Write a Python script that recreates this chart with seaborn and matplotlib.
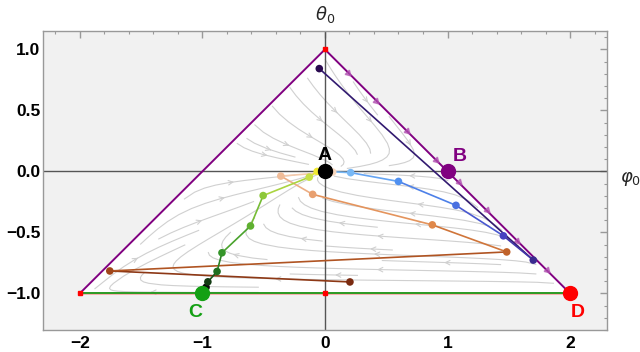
import numpy as np
import pandas as pd
import matplotlib
matplotlib.use("Agg")
import matplotlib.pyplot as plt
import matplotlib.colors as mcolors
from matplotlib.ticker import MultipleLocator
import seaborn as sns

sns.set_theme(style="white")
plt.rcParams['font.family'] = ['Liberation Sans', 'DejaVu Sans']

# triangle boundary (vertices)
tri_x = [-2, 0, 2, -2]
tri_y = [-1, 1, -1, -1]

# trajectories
green_x = [-0.97, -0.955, -0.88, -0.84, -0.607, -0.504, -0.128, -0.063]
green_y = [-0.95, -0.905, -0.82, -0.667, -0.447, -0.198, -0.047, 0.0]
green_cols = ['#0a0a0a', '#143c14', '#1f6f1f', '#35952a', '#5fb030', '#8dc83a', '#c7e048', '#f0e830']

orange_x = [0.204, -1.755, 1.483, 0.876, -0.10, -0.36, 0.063]
orange_y = [-0.906, -0.816, -0.66, -0.438, -0.188, -0.038, -0.005]
orange_cols = ['#7a2a10', '#a0461a', '#c0622a', '#e0884a', '#e8a070', '#f0bc98', '#f8d8c0']

blue_x = [-0.046, 1.70, 1.456, 1.069, 0.60, 0.21]
blue_y = [0.843, -0.727, -0.528, -0.278, -0.082, -0.01]
blue_cols = ['#2a0a50', '#3a2a90', '#4840c0', '#4a70e0', '#5090f0', '#78b8f5']

# arrow heads along the right edge
edge_arrow_x = [0.19, 0.42, 0.67, 0.91, 1.09, 1.32, 1.57, 1.81]

# fixed points
fp_names = ['A', 'B', 'C', 'D']
fp_x = [0, 1, -1, 2]
fp_y = [0, 0, -1, -1]
fp_cols = ['black', '#800080', '#14a014', '#ff0000']
fp_label_x = [0, 1.10, -1.06, 2.06]
fp_label_y = [0.13, 0.12, -1.16, -1.16]

small_red_x = [0, -2, 0]
small_red_y = [1, -1, -1]

fig = plt.figure(figsize=(6.4, 3.52), dpi=100)
ax = fig.add_axes([0.0672, 0.0625, 0.881, 0.849])
ax.set_xlim(-2.3, 2.3)
ax.set_ylim(-1.3, 1.15)
ax.set_facecolor('#f1f1f1')

# white triangle
ax.fill(tri_x, tri_y, color='white', zorder=0.5)

# background stream field
gx = np.linspace(-2.3, 2.3, 300)
gy = np.linspace(-1.3, 1.15, 200)
X, Y = np.meshgrid(gx, gy)
C = 1.1 * Y + 0.8 * Y ** 3
U = (X - C) * (X - (1 - Y)) * (X - (Y - 1)) * 0.6 + 0.5 * np.clip(Y, 0, None)
V = -0.45 * Y * (Y + 1)
outside = (Y < -1) | (X < Y - 1) | (X > 1 - Y)
U = np.ma.array(U, mask=outside)
V = np.ma.array(V, mask=outside)
ax.streamplot(X, Y, U, V, density=1.1, color='#d0d0d0', linewidth=0.8,
              arrowsize=0.8, arrowstyle='->', zorder=1)

# axes through the origin
ax.axhline(0, color='#555555', lw=1, zorder=2)
ax.axvline(0, color='#555555', lw=1, zorder=2)

# triangle edges
ax.plot([-2, 2], [-1, -1], color='#ff6060', lw=1.8, alpha=0.6, zorder=3, solid_capstyle='butt')
ax.plot([-2, 2], [-1, -1], color='#1a9a1a', lw=1.3, zorder=3.1)
ax.plot([-2, 0, 2], [-1, 1, -1], color='#800080', lw=1.4, zorder=3.2)
ax.plot(edge_arrow_x, [1 - x for x in edge_arrow_x], ls='none',
        marker=(3, 0, -135), ms=5, color='#b050b0', alpha=0.7, zorder=3.3)


def draw_traj(xs, ys, cols, end=(0, 0)):
    px = list(xs) + [end[0]]
    py = list(ys) + [end[1]]
    for i in range(len(px) - 1):
        c1 = np.array(mcolors.to_rgb(cols[i]))
        c2 = np.array(mcolors.to_rgb(cols[min(i + 1, len(cols) - 1)]))
        ax.plot(px[i:i + 2], py[i:i + 2], color=(c1 + c2) / 2, lw=1.2, zorder=4)
    df = pd.DataFrame({'x': xs, 'y': ys, 'k': range(len(xs))})
    sns.scatterplot(data=df, x='x', y='y', hue='k', palette=cols, s=30,
                    edgecolor='none', legend=False, ax=ax, zorder=5)


draw_traj(blue_x, blue_y, blue_cols)
draw_traj(orange_x, orange_y, orange_cols)
draw_traj(green_x, green_y, green_cols)

ax.plot(small_red_x, small_red_y, ls='none', marker='s', ms=3, color='red', zorder=5)

for name, x, y, c, lx, ly in zip(fp_names, fp_x, fp_y, fp_cols, fp_label_x, fp_label_y):
    ax.plot(x, y, 'o', ms=10, color=c, zorder=6)
    ax.text(lx, ly, name, color=c, fontsize=14, fontweight='bold',
            ha='center', va='center', zorder=6)

ax.text(0, 1.29, r'$\theta_0$', fontsize=13, ha='center', va='center', clip_on=False)
ax.text(2.49, -0.06, r'$\varphi_0$', fontsize=13, ha='center', va='center', clip_on=False)

# frame & ticks
for sp in ax.spines.values():
    sp.set_color('#999999')
    sp.set_linewidth(1)
ax.xaxis.set_major_locator(MultipleLocator(1))
ax.xaxis.set_minor_locator(MultipleLocator(0.2))
ax.yaxis.set_major_locator(MultipleLocator(0.5))
ax.yaxis.set_minor_locator(MultipleLocator(0.1))
ax.tick_params(which='both', direction='in', top=True, right=True, color='#999999')
ax.tick_params(which='major', length=5, width=1)
ax.tick_params(which='minor', length=2.5, width=0.8)
ax.tick_params(axis='x', pad=4)
ax.tick_params(axis='y', pad=2)
ax.set_xticks([-2, -1, 0, 1, 2])
ax.set_xticklabels(['\u22122', '\u22121', '0', '1', '2'])
ax.set_yticks([-1.0, -0.5, 0.0, 0.5, 1.0])
ax.set_yticklabels(['\u22121.0', '\u22120.5', '0.0', '0.5', '1.0'])
for lab in ax.get_xticklabels() + ax.get_yticklabels():
    lab.set_fontweight('bold')
    lab.set_fontsize(12.5)
    lab.set_color('black')
ax.set_xlabel('')
ax.set_ylabel('')

fig.savefig('out.png', dpi=100)
